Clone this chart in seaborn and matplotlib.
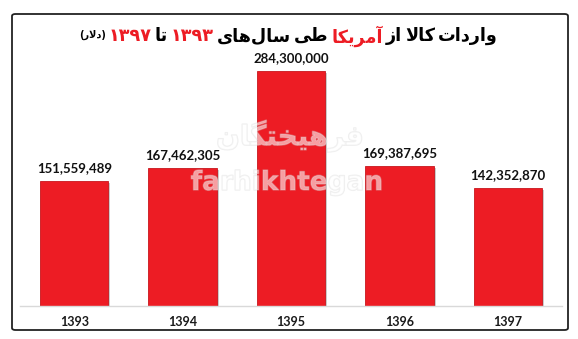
import matplotlib
matplotlib.use("Agg")
import matplotlib.pyplot as plt
import matplotlib.patheffects as pe
from matplotlib.patches import FancyBboxPatch
import seaborn as sns
import pandas as pd

years = ["1393", "1394", "1395", "1396", "1397"]
values = [151559489, 167462305, 284300000, 169387695, 142352870]
value_labels = ["151,559,489", "167,462,305", "284,300,000", "169,387,695", "142,352,870"]

# title pieces in logical (reading) order: (text, colour, relative size)
title_parts = [
    ("واردات", "black", 1.0),
    ("کالا", "black", 1.0),
    ("از", "black", 1.0),
    ("آمریکا", "#ed1c24", 1.0),
    ("طی", "black", 1.0),
    ("سال‌های", "black", 1.0),
    ("۱۳۹۳", "#ed1c24", 1.0),
    ("تا", "black", 1.0),
    ("۱۳۹۷", "#ed1c24", 1.0),
    ("(دلار)", "black", 0.55),
]
watermark_fa = "فرهیختگان"
watermark_en = "farhikhtegan"

BAR = "#ed1c24"

# --- minimal Persian shaping (presentation forms) ---
FORMS = {
    'ا': ('\uFE8D', '\uFE8E', None, None),
    'آ': ('\uFE81', '\uFE82', None, None),
    'و': ('\uFEED', '\uFEEE', None, None),
    'ر': ('\uFEAD', '\uFEAE', None, None),
    'ز': ('\uFEAF', '\uFEB0', None, None),
    'د': ('\uFEA9', '\uFEAA', None, None),
    'ت': ('\uFE95', '\uFE96', '\uFE97', '\uFE98'),
    'ک': ('\uFB8E', '\uFB8F', '\uFB90', '\uFB91'),
    'گ': ('\uFB92', '\uFB93', '\uFB94', '\uFB95'),
    'ل': ('\uFEDD', '\uFEDE', '\uFEDF', '\uFEE0'),
    'م': ('\uFEE1', '\uFEE2', '\uFEE3', '\uFEE4'),
    'ن': ('\uFEE5', '\uFEE6', '\uFEE7', '\uFEE8'),
    'ی': ('\uFBFC', '\uFBFD', '\uFBFE', '\uFBFF'),
    'ط': ('\uFEC1', '\uFEC2', '\uFEC3', '\uFEC4'),
    'س': ('\uFEB1', '\uFEB2', '\uFEB3', '\uFEB4'),
    'ه': ('\uFEE9', '\uFEEA', '\uFEEB', '\uFEEC'),
    'ف': ('\uFED1', '\uFED2', '\uFED3', '\uFED4'),
    'خ': ('\uFEA5', '\uFEA6', '\uFEA7', '\uFEA8'),
}


def shape(word):
    if all('\u06F0' <= c <= '\u06F9' for c in word):
        return word
    prefix = suffix = ""
    if word.startswith("(") and word.endswith(")"):
        word = word[1:-1]
        prefix, suffix = "(", ")"
    toks = []
    i = 0
    while i < len(word):
        c = word[i]
        if c == 'ل' and i + 1 < len(word) and word[i + 1] == 'ا':
            toks.append('LA')
            i += 2
        else:
            toks.append(c)
            i += 1

    def jl(t):
        if t == 'LA':
            return False
        f = FORMS.get(t)
        return f is not None and f[2] is not None

    def jr(t):
        return t == 'LA' or t in FORMS

    out = []
    for k, t in enumerate(toks):
        prev = toks[k - 1] if k > 0 else None
        nxt = toks[k + 1] if k + 1 < len(toks) else None
        jp = prev is not None and jl(prev) and jr(t)
        jn = nxt is not None and jl(t) and jr(nxt)
        if t == 'LA':
            out.append('\uFEFC' if jp else '\uFEFB')
        elif t in FORMS:
            iso, fin, ini, med = FORMS[t]
            if jp and jn:
                out.append(med)
            elif jp:
                out.append(fin)
            elif jn:
                out.append(ini)
            else:
                out.append(iso)
    return prefix + "".join(reversed(out)) + suffix


sns.set_theme(style="white")
plt.rcParams['font.family'] = ['DejaVu Sans']

W, H = 578, 339
fig = plt.figure(figsize=(W / 100, H / 100), dpi=100)

# frame
frame = FancyBboxPatch((12 / W, (H - 330) / H), 556 / W, 316 / H,
                       boxstyle="round,pad=0,rounding_size=0.006",
                       transform=fig.transFigure, fill=False,
                       edgecolor="#222222", linewidth=1.3)
fig.add_artist(frame)

ax = fig.add_axes([20 / W, 33 / H, 542 / W, 248 / H])
df = pd.DataFrame({"year": years, "value": values})
sns.barplot(data=df, x="year", y="value", color=BAR, saturation=1,
            width=0.63, ax=ax, edgecolor="#c8161d", linewidth=0.6)
for p in ax.patches:
    p.set_path_effects([pe.SimplePatchShadow(offset=(1.5, -1.5), shadow_rgbFace="#999999", alpha=0.5),
                        pe.Normal()])
ax.set_ylim(0, 300000000)
ax.set_xlim(-0.5, 4.5)
ax.set_xlabel("")
ax.set_ylabel("")
ax.set_yticks([])
for s in ["top", "left", "right"]:
    ax.spines[s].set_visible(False)
ax.spines["bottom"].set_color("#d9d9d9")
ax.spines["bottom"].set_linewidth(1.0)
ax.tick_params(axis="x", length=0, pad=7)
for lab in ax.get_xticklabels():
    lab.set_fontsize(9)
    lab.set_fontweight("bold")
    lab.set_fontfamily("Lato")
    lab.set_color("#1a1a1a")

for i, (v, lab) in enumerate(zip(values, value_labels)):
    ax.annotate(lab, (i, v), xytext=(0, 5), textcoords="offset points",
                ha="center", va="bottom", fontsize=9.5, fontweight="bold",
                fontfamily="Lato", color="#111111", zorder=6)

# watermark (faint, over the bars)
wm_fx = [pe.withStroke(linewidth=1.0, foreground="#d0d0d0", alpha=0.35)]
fig.text(287 / W, 1 - 183 / H, watermark_en, ha="center", va="center",
         fontsize=19, fontweight="bold", color="white", alpha=0.35, zorder=5,
         path_effects=wm_fx)
fig.text(290 / W, 1 - 136 / H, shape(watermark_fa), ha="center", va="center",
         fontsize=20, fontweight="bold", color="white", alpha=0.35, zorder=5,
         path_effects=wm_fx)

# title, drawn right to left
fig.canvas.draw()
renderer = fig.canvas.get_renderer()
base_fs = 12.7
x = 498
y = 1 - 34 / H
for txt, col, sc in title_parts:
    t = fig.text(x / W, y, shape(txt), ha="right", va="center_baseline",
                 fontsize=base_fs * sc, fontweight="bold", color=col)
    bb = t.get_window_extent(renderer)
    x = bb.x0 - 3

fig.savefig("out.png", dpi=100)
